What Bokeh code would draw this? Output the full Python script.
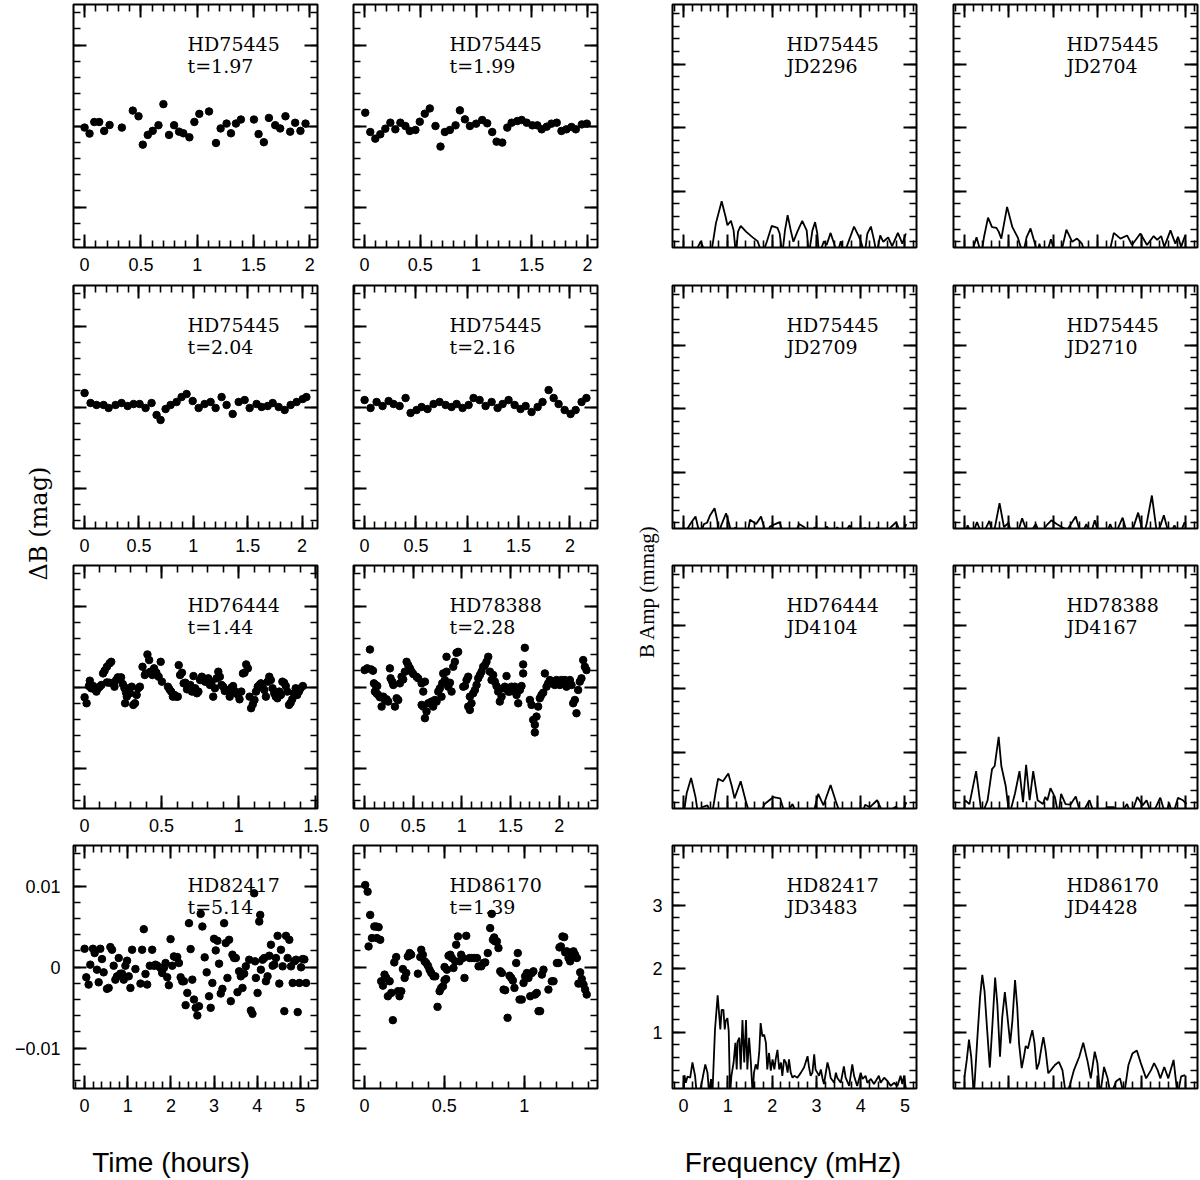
import numpy as np
from bokeh.plotting import figure
from bokeh.models import Range1d, LinearAxis, SingleIntervalTicker, Label, CustomJSTickFormatter
from bokeh.layouts import row, column
from bokeh.embed import file_html
from bokeh.resources import INLINE

# ---------------- light curves: time (hours), delta B (mmag) ----------------
lc_a_t = [0.000, 0.044, 0.086, 0.130, 0.174, 0.222, 0.331, 0.428, 0.479, 0.517,
          0.561, 0.605, 0.656, 0.700, 0.750, 0.795, 0.839, 0.877, 0.931, 0.975,
          1.019, 1.105, 1.167, 1.208, 1.261, 1.300, 1.344, 1.388, 1.504, 1.545,
          1.592, 1.637, 1.693, 1.737, 1.784, 1.826, 1.870, 1.917, 1.962]
lc_a_m = [-0.2, -0.94, 0.49, 0.49, -0.61, 0.12, -0.2, 1.9, 1.2, -2.3,
          -1.1, -0.6, 0.1, 2.7, -1.1, 0.1, -0.7, -0.9, -1.4, 0.5,
          1.5, 1.8, -2.1, -0.3, 0.3, -0.9, 0.3, 0.8, 0.8, -1.0,
          -2.0, 1.0, 0.1, -0.3, 1.2, -0.7, 0.4, -0.6, 0.3]

lc_b_t = [0.006, 0.051, 0.096, 0.141, 0.186, 0.231, 0.276, 0.321, 0.366, 0.405,
          0.456, 0.495, 0.540, 0.585, 0.636, 0.681, 0.720, 0.765, 0.816, 0.855,
          0.900, 0.945, 1.001, 1.055, 1.100, 1.145, 1.184, 1.235, 1.280, 1.319,
          1.370, 1.409, 1.454, 1.505, 1.550, 1.589, 1.634, 1.676, 1.724, 1.766,
          1.811, 1.856, 1.895, 1.949, 1.994]
lc_b_m = [1.64, -0.74, -1.56, -1.02, -0.33, 0.41, -0.41, 0.41, 0.0, -0.61,
          -0.49, 0.53, 1.52, 2.17, 0.0, -2.54, -0.74, -0.49, 0.08, 1.93,
          0.82, 0.0, 0.29, 0.74, 0.33, -0.74, -1.93, -2.05, -0.2, 0.41,
          0.61, 0.74, 0.41, 0.08, 0.08, -0.41, -0.08, 0.29, 0.41, -0.61,
          -0.41, -0.12, -0.41, 0.2, 0.29]

lc_c_t = [0.000, 0.055, 0.110, 0.175, 0.221, 0.285, 0.340, 0.396, 0.451, 0.506,
          0.561, 0.616, 0.662, 0.699, 0.745, 0.791, 0.846, 0.892, 0.938, 0.994,
          1.049, 1.104, 1.159, 1.205, 1.260, 1.306, 1.362, 1.417, 1.472, 1.518,
          1.582, 1.628, 1.684, 1.730, 1.785, 1.840, 1.895, 1.950, 2.006, 2.040]
lc_c_m = [1.72, 0.49, 0.25, 0.25, -0.12, 0.25, 0.49, 0.12, 0.37, 0.37,
          -0.12, 0.49, -0.98, -1.60, -0.25, 0.25, 0.62, 1.23, 1.60, 0.74,
          -0.12, 0.37, 0.62, -0.12, 1.23, 0.25, -0.86, 0.62, 0.86, -0.12,
          0.37, 0.0, 0.12, 0.49, 0.0, -0.37, 0.25, 0.62, 0.98, 1.23]

lc_d_t = [0.000, 0.058, 0.117, 0.175, 0.234, 0.282, 0.341, 0.399, 0.448, 0.506,
          0.555, 0.613, 0.672, 0.730, 0.789, 0.847, 0.896, 0.954, 1.013, 1.061,
          1.120, 1.178, 1.237, 1.295, 1.344, 1.402, 1.461, 1.519, 1.568, 1.626,
          1.685, 1.733, 1.792, 1.841, 1.889, 1.948, 2.006, 2.055, 2.113, 2.160]
lc_d_m = [0.86, -0.12, 0.62, 0.12, 0.74, 0.37, 0.12, 1.11, -0.74, -0.37,
          0.0, -0.25, 0.37, 0.62, 0.25, 0.0, 0.37, -0.12, 0.25, 1.11,
          0.86, 0.12, 0.62, -0.12, 0.37, 0.86, 0.25, -0.25, 0.12, -0.62,
          0.0, 0.62, 2.09, 1.11, 0.37, -0.37, -0.86, -0.37, 0.62, 1.11]

lc_e_t = [0.000, 0.013, 0.028, 0.034, 0.043, 0.056, 0.066, 0.077, 0.088, 0.098,
          0.109, 0.120, 0.130, 0.145, 0.162, 0.173, 0.145, 0.162, 0.184, 0.194,
          0.205, 0.216, 0.226, 0.237, 0.248, 0.259, 0.269, 0.263, 0.274, 0.284,
          0.295, 0.306, 0.316, 0.327, 0.338, 0.348, 0.359, 0.376, 0.391, 0.397,
          0.408, 0.419, 0.427, 0.440, 0.451, 0.466, 0.481, 0.494, 0.502, 0.541,
          0.551, 0.562, 0.573, 0.583, 0.594, 0.605, 0.611, 0.620, 0.632, 0.643,
          0.654, 0.665, 0.675, 0.686, 0.697, 0.707, 0.718, 0.729, 0.739, 0.750,
          0.761, 0.771, 0.782, 0.793, 0.803, 0.814, 0.825, 0.835, 0.846, 0.857,
          0.868, 0.878, 0.889, 0.900, 0.910, 0.921, 0.932, 0.942, 0.953, 0.964,
          0.974, 0.985, 0.996, 1.006, 1.017, 1.028, 1.038, 1.049, 1.060, 1.071,
          1.081, 1.092, 1.103, 1.113, 1.124, 1.135, 1.145, 1.156, 1.167, 1.177,
          1.188, 1.199, 1.209, 1.220, 1.231, 1.241, 1.252, 1.263, 1.274, 1.284,
          1.295, 1.306, 1.316, 1.327, 1.338, 1.348, 1.359, 1.370, 1.380, 1.391,
          1.402, 1.417]
lc_e_m = [-1.27, -2.01, 0.12, 0.78, -0.16, 0.12, -0.29, -0.57, -0.16, 0.04,
          0.25, 1.68, 2.01, 2.50, 2.91, 3.11, 0.57, 0.53, 0.45, 0.04,
          0.86, 1.19, 1.07, 1.19, 0.37, -0.16, -0.70, -2.01, -1.19, -0.16,
          -0.78, 0.04, -2.21, -2.01, -0.98, -0.16, 0.04, 2.50, 1.48, 1.68,
          4.02, 3.32, 1.89, 1.48, 2.30, 1.76, 1.27, 3.11, 0.66, 0.04,
          -0.29, -0.57, -1.19, -0.98, -1.19, -1.19, 2.70, 1.48, 1.76, 0.45,
          0.53, -0.29, 0.12, 0.25, -0.57, 1.35, -0.16, -0.78, -0.57, 0.86,
          1.27, 1.07, 0.66, 0.86, 1.07, 0.25, 0.66, -1.19, -0.16, 1.07,
          1.89, 1.27, 0.25, 0.04, -0.49, -0.37, -0.57, -1.19, -0.08, 0.12,
          -0.49, -0.78, -0.98, -1.52, -0.57, 1.68, 1.76, 2.79, 2.30, -1.19,
          -2.62, -2.13, -1.60, -0.57, 0.04, 0.25, 0.45, -0.08, -0.37, -1.19,
          0.66, 1.27, 0.86, -0.16, -0.78, -1.19, -1.39, -0.57, -0.98, 0.66,
          0.53, 0.12, -0.57, -2.21, -1.93, -1.52, -0.78, -0.16, -0.98, -0.57,
          -0.16, 0.12]

lc_f_t = [0.000, 0.027, 0.055, 0.068, 0.086, 0.096, 0.113, 0.130, 0.106, 0.123,
          0.140, 0.158, 0.175, 0.192, 0.209, 0.226, 0.243, 0.260, 0.267, 0.284,
          0.295, 0.312, 0.329, 0.346, 0.363, 0.380, 0.397, 0.414, 0.432, 0.449,
          0.466, 0.483, 0.500, 0.534, 0.551, 0.586, 0.603, 0.620, 0.586, 0.603,
          0.620, 0.637, 0.654, 0.671, 0.688, 0.705, 0.723, 0.740, 0.757, 0.774,
          0.791, 0.798, 0.808, 0.825, 0.842, 0.842, 0.860, 0.877, 0.894, 0.911,
          0.928, 0.945, 0.962, 1.014, 1.031, 1.048, 1.065, 1.082, 1.065, 1.082,
          1.099, 1.116, 1.134, 1.151, 1.168, 1.185, 1.202, 1.219, 1.236, 1.253,
          1.271, 1.288, 1.305, 1.322, 1.339, 1.356, 1.373, 1.390, 1.408, 1.425,
          1.442, 1.459, 1.476, 1.493, 1.510, 1.527, 1.545, 1.562, 1.579, 1.596,
          1.613, 1.630, 1.647, 1.630, 1.699, 1.716, 1.733, 1.750, 1.750, 1.767,
          1.784, 1.801, 1.818, 1.836, 1.853, 1.870, 1.887, 1.904, 1.921, 1.938,
          1.955, 1.973, 1.990, 2.007, 2.024, 2.041, 2.058, 2.075, 2.092, 2.110,
          2.127, 2.144, 2.161, 2.178, 2.195, 2.212, 2.229, 2.247, 2.264, 2.281]
lc_f_m = [2.09, 2.30, 4.63, 2.17, 2.01, 0.45, 0.25, 0.12, -0.57, -0.78,
          -0.98, -1.27, -2.42, -1.19, -1.60, -1.52, -1.80, 2.30, 1.07, 0.66,
          0.25, -2.42, -1.39, -1.60, 0.45, 1.27, 0.94, 1.89, 3.11, 2.70,
          2.30, 1.89, 1.60, 1.27, 1.07, 0.45, -0.57, 0.66, -2.21, -2.42,
          -3.85, -3.03, -2.01, -2.01, -1.80, -2.42, -1.60, -1.80, -0.57, -0.16,
          -1.19, 0.45, 1.68, 0.86, 1.89, 3.73, 0.04, 0.53, -0.57, 2.50,
          3.11, 4.22, 4.34, 0.04, 0.12, 0.86, 1.27, -1.19, -2.42, -2.83,
          -2.01, -0.78, -0.37, 0.25, 1.07, 1.48, 1.89, 2.50, 2.70, 3.11,
          3.73, 1.89, 0.86, 1.48, 0.66, 0.12, -0.57, -1.80, -1.19, -0.16,
          0.04, 1.35, -0.57, -0.57, 0.04, -0.45, 0.04, -0.98, -2.01, -0.37,
          0.12, 2.79, 4.84, 1.68, -1.60, -2.21, -4.06, -4.67, -5.61, -3.65,
          -2.42, -1.39, -0.98, -0.70, 1.68, 0.04, 0.45, 0.86, 0.45, 0.66,
          0.25, 0.86, 0.66, 0.25, 0.86, 0.66, 0.86, 0.04, 0.25, 0.86,
          0.25, -2.01, -1.60, -3.24, -0.37, 0.66, 1.07, 3.32, 2.50, 2.09]

lc_g_t = [0.000, 0.039, 0.093, 0.132, 0.194, 0.233, 0.287, 0.326, 0.364, 0.403,
          0.442, 0.519, 0.558, 0.597, 0.636, 0.674, 0.713, 0.752, 0.791, 0.829,
          0.868, 0.907, 0.946, 0.984, 1.023, 1.062, 1.101, 1.178, 1.295, 1.333,
          1.372, 1.411, 1.450, 1.512, 1.566, 1.605, 1.643, 1.682, 1.760, 1.798,
          1.837, 1.876, 1.915, 1.953, 1.992, 2.031, 2.070, 2.109, 2.147, 2.186,
          2.225, 2.264, 2.302, 2.341, 2.380, 2.419, 2.457, 2.496, 2.535, 2.574,
          2.612, 2.651, 2.690, 2.729, 2.783, 2.829, 2.884, 2.922, 2.961, 3.000,
          3.039, 3.078, 3.116, 3.155, 3.194, 3.233, 3.271, 3.310, 3.349, 3.388,
          3.426, 3.465, 3.504, 3.543, 3.581, 3.620, 3.659, 3.698, 3.736, 3.930,
          3.814, 3.853, 3.891, 3.950, 3.969, 4.008, 4.047, 4.070, 4.085, 4.124,
          4.163, 4.202, 4.240, 4.279, 4.318, 4.357, 4.395, 4.434, 4.473, 4.512,
          4.550, 4.589, 4.628, 4.667, 4.705, 4.744, 4.783, 4.822, 4.860, 4.899,
          4.938, 4.977, 5.016, 5.054, 5.093, 5.132]
lc_g_m = [2.25, -1.27, -2.17, 0.29, 2.25, 1.72, -0.33, -1.89, 2.25, 0.98,
          -0.66, -2.70, -2.58, 2.46, 2.13, 0.16, -1.56, -1.15, 1.11, -0.82,
          -0.82, -1.56, 0.16, 0.78, -1.15, -2.58, 2.13, -0.25, -2.05, 2.13,
          4.67, -0.86, -2.17, 0.16, 2.13, 0.16, 0.29, 0.16, -0.12, -0.74,
          -0.12, 0.49, -1.27, -2.25, 3.44, 0.16, 1.31, 1.19, 1.23, 0.49,
          -1.27, -1.76, -1.76, -4.71, -3.20, 5.41, 2.21, -1.56, -4.02, -5.04,
          -5.98, -4.84, 6.56, 5.00, 1.19, -0.66, -3.61, -5.04, -1.97, 3.48,
          2.05, 3.24, 0.41, -3.28, -2.70, 5.41, 2.95, -1.35, 3.36, -4.22,
          1.52, 1.11, 1.11, -3.11, -0.53, -1.15, -2.58, -0.82, 0.08, 9.10,
          0.90, -5.37, -5.78, 0.70, -1.35, -3.20, 5.61, 6.43, -0.33, 0.90,
          1.11, -1.76, -1.15, 1.39, 2.75, 0.16, 0.29, 1.11, 3.85, -2.05,
          2.13, 0.08, -5.45, 3.85, 1.11, 3.36, 0.08, -1.97, 0.70, 0.90,
          -5.57, -1.97, -0.04, 0.98, 0.94, -1.97]

lc_h_t = [0.004, 0.019, 0.035, 0.025, 0.046, 0.061, 0.073, 0.088, 0.077, 0.098,
          0.104, 0.115, 0.125, 0.136, 0.146, 0.157, 0.167, 0.177, 0.186, 0.198,
          0.209, 0.219, 0.230, 0.240, 0.251, 0.261, 0.271, 0.282, 0.292, 0.334,
          0.349, 0.355, 0.365, 0.376, 0.386, 0.397, 0.407, 0.418, 0.432, 0.443,
          0.457, 0.470, 0.480, 0.491, 0.501, 0.511, 0.501, 0.516, 0.526, 0.537,
          0.547, 0.557, 0.568, 0.574, 0.585, 0.595, 0.605, 0.616, 0.626, 0.637,
          0.658, 0.672, 0.689, 0.704, 0.714, 0.731, 0.745, 0.756, 0.772, 0.787,
          0.804, 0.818, 0.829, 0.797, 0.812, 0.839, 0.850, 0.860, 0.871, 0.881,
          0.896, 0.908, 0.919, 0.929, 0.939, 0.950, 0.960, 0.971, 0.985, 0.996,
          1.006, 1.017, 1.027, 1.038, 1.048, 1.058, 1.069, 1.079, 1.090, 1.100,
          1.111, 1.121, 1.152, 1.173, 1.184, 1.205, 1.215, 1.221, 1.230, 1.240,
          1.251, 1.257, 1.267, 1.278, 1.288, 1.299, 1.309, 1.319, 1.330, 1.340,
          1.351, 1.361, 1.372, 1.382, 1.392]
lc_h_m = [10.12, 9.30, 6.43, 2.54, 3.57, 5.00, 5.00, 4.92, 3.57, 3.36,
          -1.76, -2.30, -0.94, -1.35, -3.61, -1.76, -3.20, -6.56, 0.57, 1.23,
          -2.99, -3.61, -2.99, -0.25, -1.35, -0.74, 1.31, 1.72, 1.52, -0.82,
          1.23, 2.13, 1.52, 0.70, 0.49, 0.16, -0.33, -0.74, -1.15, -1.15,
          -4.92, -2.99, -2.58, -2.38, -1.64, -1.48, 0.00, -0.33, 1.39, 1.52,
          1.11, -0.12, 0.70, 2.75, 3.77, 0.70, 1.52, 1.11, -1.35, 3.85,
          1.11, 1.11, 1.11, 1.11, 0.08, 0.08, 0.49, 0.57, 1.72, 4.80,
          3.36, 3.16, 3.16, 6.56, 3.65, 2.34, -0.53, -0.74, -2.79, -2.87,
          -6.27, -1.07, -1.35, -1.68, -2.58, 0.49, 1.72, -4.02, -4.02, -1.97,
          -1.15, -0.74, -1.35, -3.61, -0.74, -0.53, -3.40, -3.20, -5.45, -5.45,
          -0.94, -0.33, -2.79, -1.76, -1.76, 0.49, 0.49, 2.42, 2.54, 3.77,
          3.69, 1.80, 1.93, 1.11, 0.70, 1.80, 1.93, 1.52, 1.11, -2.05,
          -0.66, -1.48, -2.17, -2.79, -3.40]

lc_star = ["HD75445", "HD75445", "HD75445", "HD75445", "HD76444", "HD78388", "HD82417", "HD86170"]
lc_dur = [1.97, 1.99, 2.04, 2.16, 1.44, 2.28, 5.14, 1.39]

# ---------------- amplitude spectra: frequency (mHz), B amplitude (mmag) ----------------
sp_a_f = [0.00, 0.24, 0.39, 0.50, 0.62, 0.73, 0.86, 0.95, 0.99, 1.07,
          1.13, 1.18, 1.23, 1.29, 1.41, 1.56, 1.67, 1.78, 1.88, 1.99,
          2.12, 2.17, 2.23, 2.29, 2.35, 2.42, 2.48, 2.57, 2.68, 2.78,
          2.83, 2.91, 2.97, 3.02, 3.06, 3.17, 3.23, 3.32, 3.40, 3.47,
          3.55, 3.62, 3.74, 3.85, 3.96, 4.02, 4.09, 4.15, 4.23, 4.30,
          4.36, 4.44, 4.51, 4.62, 4.71, 4.84, 4.94, 5.02]
sp_a_a = [0.0, 0.0, 0.21, 0.0, 0.0, 0.49, 0.84, 0.59, 0.46, 0.53,
          0.38, 0.0, 0.36, 0.45, 0.36, 0.27, 0.21, 0.0, 0.2, 0.45,
          0.42, 0.33, 0.0, 0.38, 0.62, 0.38, 0.2, 0.36, 0.53, 0.38,
          0.0, 0.38, 0.51, 0.33, 0.0, 0.21, 0.15, 0.34, 0.17, 0.0,
          0.21, 0.0, 0.23, 0.44, 0.28, 0.17, 0.0, 0.33, 0.44, 0.23,
          0.0, 0.30, 0.2, 0.27, 0.13, 0.34, 0.17, 0.33]

sp_b_f = [0.0, 0.15, 0.27, 0.38, 0.44, 0.53, 0.62, 0.72, 0.77, 0.83,
          0.96, 1.08, 1.20, 1.32, 1.40, 1.49, 1.59, 1.64, 1.69, 1.75,
          1.85, 1.95, 2.05, 2.17, 2.30, 2.43, 2.54, 2.65, 2.73,
          3.26, 3.37, 3.52, 3.67, 3.78, 3.97, 4.12, 4.27, 4.35, 4.44,
          4.51, 4.65, 4.76, 4.82, 4.89, 4.98]
sp_b_a = [0.0, 0.0, 0.27, 0.0, 0.28, 0.58, 0.43, 0.42, 0.36, 0.25,
          0.75, 0.43, 0.27, 0.0, 0.27, 0.41, 0.17, 0.0, 0.17, 0.0,
          0.0, 0.24, 0.0, 0.0, 0.39, 0.2, 0.25, 0.17, 0.0,
          0.0, 0.34, 0.25, 0.30, 0.15, 0.33, 0.15, 0.29, 0.23, 0.29,
          0.12, 0.38, 0.17, 0.28, 0.12, 0.30]

sp_c_f = [0.00, 0.15, 0.27, 0.37, 0.46, 0.53, 0.60, 0.70, 0.76, 0.79,
          0.85, 0.96, 1.03, 1.09, 1.17, 1.25, 1.44, 1.50, 1.64, 1.75,
          1.87, 1.95, 2.07, 2.17, 2.26, 2.50, 2.61, 2.73, 2.85, 2.96,
          3.08, 3.24, 3.36, 3.47, 3.59, 3.75, 3.86, 4.10, 4.25, 4.37,
          4.53, 4.68, 4.80, 4.92, 5.03]
sp_c_a = [0.0, 0.18, 0.30, 0.0, 0.18, 0.20, 0.32, 0.43, 0.24, 0.0,
          0.16, 0.35, 0.18, 0.0, 0.13, 0.0, 0.0, 0.25, 0.18, 0.30,
          0.0, 0.14, 0.18, 0.21, 0.0, 0.0, 0.18, 0.13, 0.0, 0.13,
          0.0, 0.14, 0.0, 0.13, 0.0, 0.16, 0.0, 0.12, 0.0, 0.13,
          0.0, 0.13, 0.21, 0.0, 0.18]

sp_d_f = [0.0, 0.07, 0.17, 0.28, 0.40, 0.56, 0.65, 0.79, 0.89, 0.99,
          1.07, 1.18, 1.30, 1.44, 1.61, 1.71, 1.85, 1.96, 2.08, 2.20,
          2.32, 2.51, 2.63, 2.75, 2.84, 2.94, 3.04, 3.18, 3.29, 3.39,
          3.57, 3.68, 3.80, 3.92, 4.04, 4.11, 4.23, 4.35, 4.50, 4.62,
          4.74, 4.85, 4.97]
sp_d_a = [0.0, 0.16, 0.0, 0.21, 0.0, 0.23, 0.0, 0.51, 0.13, 0.20,
          0.0, 0.0, 0.27, 0.0, 0.18, 0.0, 0.16, 0.24, 0.18, 0.13,
          0.09, 0.30, 0.0, 0.18, 0.0, 0.24, 0.0, 0.0, 0.18, 0.0,
          0.28, 0.0, 0.10, 0.36, 0.0, 0.18, 0.63, 0.0, 0.32, 0.0,
          0.16, 0.0, 0.21]

sp_e_f = [0.0, 0.07, 0.17, 0.27, 0.33, 0.41, 0.54, 0.64, 0.72, 0.78,
          0.89, 1.01, 1.09, 1.15, 1.29, 1.40, 1.50, 1.71, 1.83, 2.03,
          2.18, 2.30, 2.46, 2.57, 2.92, 3.04, 3.16, 3.32, 3.43, 3.55,
          4.02, 4.10, 4.21, 4.37, 4.53, 4.68, 4.80, 4.92, 5.03]
sp_e_a = [0.0, 0.35, 0.59, 0.29, 0.0, 0.13, 0.16, 0.0, 0.35, 0.58,
          0.54, 0.66, 0.46, 0.27, 0.54, 0.24, 0.0, 0.0, 0.18, 0.29,
          0.27, 0.0, 0.18, 0.0, 0.0, 0.34, 0.16, 0.48, 0.24, 0.0,
          0.0, 0.17, 0.13, 0.24, 0.0, 0.09, 0.14, 0.0, 0.21]

sp_f_f = [0.01, 0.11, 0.26, 0.39, 0.52, 0.62, 0.68, 0.77, 0.83, 0.93,
          1.01, 1.14, 1.24, 1.32, 1.39, 1.47, 1.55, 1.65, 1.77, 1.82,
          1.87, 1.94, 2.04, 2.12, 2.18, 2.28, 2.39, 2.51, 2.63, 2.82,
          2.94, 3.10, 3.21, 3.37, 3.49, 3.67, 3.76, 3.90, 4.02, 4.11,
          4.23, 4.42, 4.54, 4.62, 4.70, 4.82, 4.93, 5.01]
sp_f_a = [0.24, 0.18, 0.70, 0.0, 0.24, 0.73, 0.78, 1.24, 0.78, 0.46,
          0.0, 0.35, 0.70, 0.21, 0.80, 0.24, 0.70, 0.24, 0.18, 0.29,
          0.24, 0.43, 0.29, 0.0, 0.34, 0.18, 0.17, 0.30, 0.0, 0.24,
          0.0, 0.0, 0.13, 0.13, 0.0, 0.18, 0.0, 0.29, 0.16, 0.24,
          0.0, 0.28, 0.0, 0.20, 0.0, 0.28, 0.24, 0.18]

sp_g_f = [0.00, 0.02, 0.05, 0.09, 0.15, 0.20, 0.26, 0.30, 0.35, 0.41,
          0.49, 0.54, 0.58, 0.62, 0.65, 0.71, 0.77, 0.83, 0.86, 0.90,
          0.93, 0.95, 0.99, 1.02, 1.05, 1.08, 1.13, 1.17, 1.20, 1.22,
          1.26, 1.29, 1.33, 1.37, 1.41, 1.44, 1.48, 1.52, 1.56, 1.59,
          1.63, 1.67, 1.71, 1.74, 1.78, 1.82, 1.86, 1.89, 1.93, 1.97,
          2.01, 2.05, 2.08, 2.12, 2.16, 2.20, 2.23, 2.27, 2.31, 2.35,
          2.38, 2.42, 2.46, 2.50, 2.57, 2.65, 2.72, 2.80, 2.83, 2.87,
          2.91, 2.95, 2.98, 3.02, 3.06, 3.10, 3.14, 3.17, 3.25, 3.29,
          3.32, 3.40, 3.44, 3.47, 3.55, 3.62, 3.66, 3.74, 3.81, 3.85,
          3.92, 4.00, 4.04, 4.11, 4.15, 4.23, 4.30, 4.41, 4.45, 4.53,
          4.60, 4.68, 4.75, 4.83, 4.90, 4.94, 4.98, 5.02]
sp_g_a = [0.0, 0.32, 0.20, 0.30, 0.28, 0.52, 0.31, 0.0, 0.0, 0.20,
          0.49, 0.36, 0.0, 0.26, 0.0, 1.04, 1.58, 1.04, 1.35, 1.35,
          1.04, 1.17, 1.22, 1.01, 0.0, 0.31, 0.52, 0.83, 0.41, 0.85,
          0.91, 0.41, 1.19, 0.52, 1.19, 0.41, 0.91, 0.52, 0.0, 0.36,
          0.49, 0.41, 0.70, 1.14, 0.93, 0.96, 0.83, 0.41, 0.67, 0.39,
          0.57, 0.41, 0.57, 0.72, 0.41, 0.52, 0.31, 0.57, 0.52, 0.36,
          0.57, 0.36, 0.28, 0.31, 0.28, 0.36, 0.44, 0.62, 0.46, 0.31,
          0.36, 0.65, 0.41, 0.36, 0.31, 0.41, 0.26, 0.18, 0.52, 0.41,
          0.28, 0.20, 0.36, 0.28, 0.20, 0.46, 0.28, 0.15, 0.49, 0.31,
          0.15, 0.36, 0.26, 0.31, 0.20, 0.26, 0.18, 0.31, 0.20, 0.28,
          0.23, 0.15, 0.20, 0.15, 0.31, 0.18, 0.31, 0.11]

sp_h_f = [0.00, 0.05, 0.10, 0.15, 0.21, 0.29, 0.35, 0.40, 0.45, 0.51,
          0.57, 0.63, 0.69, 0.74, 0.80, 0.85, 0.91, 0.97, 1.03, 1.08,
          1.14, 1.19, 1.23, 1.29, 1.34, 1.38, 1.43, 1.49, 1.53, 1.58,
          1.63, 1.68, 1.74, 1.78, 1.83, 1.89, 1.95, 2.04, 2.13, 2.21,
          2.29, 2.38, 2.47, 2.59, 2.68, 2.78, 2.85, 2.94, 3.00, 3.06,
          3.15, 3.23, 3.30, 3.42, 3.51, 3.60, 3.70, 3.79, 3.89, 3.98,
          4.10, 4.21, 4.28, 4.36, 4.42, 4.51, 4.60, 4.72, 4.81, 4.89,
          4.98]
sp_h_a = [0.30, 0.56, 0.88, 0.61, 0.0, 0.92, 1.55, 1.90, 1.65, 1.03,
          0.44, 1.13, 1.86, 1.44, 0.61, 1.23, 1.63, 1.23, 0.82, 1.18,
          1.82, 1.39, 0.82, 0.43, 0.61, 0.78, 0.74, 0.92, 1.03, 0.82,
          0.41, 0.51, 0.77, 0.92, 0.71, 0.35, 0.40, 0.48, 0.53, 0.40,
          0.0, 0.17, 0.40, 0.61, 0.83, 0.53, 0.27, 0.69, 0.51, 0.0,
          0.45, 0.27, 0.0, 0.22, 0.27, 0.0, 0.48, 0.66, 0.71, 0.51,
          0.27, 0.40, 0.51, 0.40, 0.27, 0.45, 0.27, 0.56, 0.0, 0.30,
          0.32]

sp_star = ["HD75445", "HD75445", "HD75445", "HD75445", "HD76444", "HD78388", "HD82417", "HD86170"]
sp_jd = ["JD2296", "JD2704", "JD2709", "JD2710", "JD4104", "JD4167", "JD3483", "JD4428"]

LC_T = [lc_a_t, lc_b_t, lc_c_t, lc_d_t, lc_e_t, lc_f_t, lc_g_t, lc_h_t]
LC_M = [lc_a_m, lc_b_m, lc_c_m, lc_d_m, lc_e_m, lc_f_m, lc_g_m, lc_h_m]
SP_F = [sp_a_f, sp_b_f, sp_c_f, sp_d_f, sp_e_f, sp_f_f, sp_g_f, sp_h_f]
SP_A = [sp_a_a, sp_b_a, sp_c_a, sp_d_a, sp_e_a, sp_f_a, sp_g_a, sp_h_a]

# ---------------- layout geometry (page starts at 0,0) ----------------
FH = 243
COL_W = [335, 299, 300, 265]
COL_ML = [73, 18, 38, 19]
COL_MR = [18, 37, 18, 2]
ROW_H = [280, 280, 280, 282]
ROW_MT = [4, 5, 5, 5]
ROW_MB = [33, 32, 32, 34]
STRIP_W = {0: 55, 2: 30}
TXT_OFF = [114, 96, 114, 113]
TXT_DY = (39, 61)

FMT_CODE = """
if (Math.abs(tick) < 1e-9) { return "0"; }
var s = String(Number(Math.abs(tick).toFixed(3)));
return (tick < 0 ? "\u2212" : "") + s;
"""
BLANK_CODE = "return '';"

TICK_FONT = "Liberation Sans"
TICK_SIZE = "18px"
SERIF = "DejaVu Serif"


def make_axis(ticker, labels, standoff=10):
    ax = LinearAxis(ticker=ticker)
    ax.axis_line_color = None
    ax.major_tick_in = 13
    ax.major_tick_out = 0
    ax.minor_tick_in = 7
    ax.minor_tick_out = 0
    ax.major_tick_line_color = "black"
    ax.minor_tick_line_color = "black"
    ax.major_tick_line_width = 2
    ax.minor_tick_line_width = 1.6
    if labels:
        ax.formatter = CustomJSTickFormatter(code=FMT_CODE)
        ax.major_label_text_font = TICK_FONT
        ax.major_label_text_font_size = TICK_SIZE
        ax.major_label_text_color = "black"
        ax.major_label_standoff = standoff
    else:
        ax.formatter = CustomJSTickFormatter(code=BLANK_CODE)
        ax.major_label_text_font_size = "1px"
        ax.major_label_text_color = None
        ax.major_label_standoff = 0
    return ax


def make_panel(ri, ci, w, ml):
    fw = w - ml - COL_MR[ci]
    if ci < 2:
        k = ri * 2 + ci
        t = lc_dur[k]
        xr = Range1d(-0.05 * t, 1.05 * t)
        yr = Range1d(-0.015, 0.015)
        xint = 1.0 if t > 3 else 0.5
        yint = 0.01
        lines = [lc_star[k], "t=%.2f" % t]
        show_x = True
        show_y = (ci == 0 and ri == 3)
    else:
        k = ri * 2 + (ci - 2)
        xr = Range1d(-0.25, 5.26)
        yr = Range1d(0.11, 3.94)
        xint = 1.0
        yint = 1.0
        lines = [sp_star[k], sp_jd[k]]
        show_x = (ci == 2 and ri == 3)
        show_y = (ci == 2 and ri == 3)

    p = figure(width=w, height=ROW_H[ri], x_range=xr, y_range=yr,
               output_backend="svg", toolbar_location=None, title=None,
               x_axis_location=None, y_axis_location=None,
               min_border_left=ml, min_border_right=COL_MR[ci],
               min_border_top=ROW_MT[ri], min_border_bottom=ROW_MB[ri])
    p.grid.visible = False
    p.outline_line_color = "black"
    p.outline_line_width = 2
    p.background_fill_color = "white"
    p.border_fill_color = "white"

    if ci < 2:
        n = min(len(LC_T[k]), len(LC_M[k]))
        x = np.array(LC_T[k][:n])
        y = np.array(LC_M[k][:n]) / 1000.0
        p.scatter(x, y, size=7.5, marker="circle", fill_color="black", line_color="black")
    else:
        n = min(len(SP_F[k]), len(SP_A[k]))
        p.line(np.array(SP_F[k][:n]), np.array(SP_A[k][:n]), line_color="black", line_width=1.8)

    p.add_layout(make_axis(SingleIntervalTicker(interval=xint, num_minor_ticks=5), show_x, 10), "below")
    p.add_layout(make_axis(SingleIntervalTicker(interval=xint, num_minor_ticks=5), False), "above")
    p.add_layout(make_axis(SingleIntervalTicker(interval=yint, num_minor_ticks=5), show_y,
                           13 if ci == 0 else 10), "left")
    p.add_layout(make_axis(SingleIntervalTicker(interval=yint, num_minor_ticks=5), False), "right")

    x0, x1 = xr.start, xr.end
    y0, y1 = yr.start, yr.end
    xl = x0 + TXT_OFF[ci] / fw * (x1 - x0)
    for txt, dy in zip(lines, TXT_DY):
        yl = y1 - dy / FH * (y1 - y0)
        p.add_layout(Label(x=xl, y=yl, text=txt, text_font=SERIF, text_font_size="19px",
                           text_color="black", text_align="left", text_baseline="alphabetic"))
    return p


def blank(w, h):
    p = figure(width=w, height=h, x_range=Range1d(0, w), y_range=Range1d(0, h),
               output_backend="svg", toolbar_location=None, title=None,
               x_axis_location=None, y_axis_location=None,
               min_border=0, min_border_left=0, min_border_right=0,
               min_border_top=0, min_border_bottom=0)
    p.grid.visible = False
    p.outline_line_color = None
    p.background_fill_color = "white"
    p.border_fill_color = "white"
    return p


P = [[None] * 4 for _ in range(4)]
for ri in range(4):
    for ci in range(4):
        w = COL_W[ci]
        ml = COL_ML[ci]
        if ci in STRIP_W and ri in (1, 2):
            w -= STRIP_W[ci]
            ml -= STRIP_W[ci]
        P[ri][ci] = make_panel(ri, ci, w, ml)

strip_top = ROW_H[0]
strip_h = ROW_H[1] + ROW_H[2]
stripL = blank(STRIP_W[0], strip_h)
stripL.add_layout(Label(x=38, y=strip_top + strip_h - 523, text="\u0394B (mag)", angle=np.pi / 2,
                        text_align="center", text_baseline="middle",
                        text_font=SERIF, text_font_size="24px", text_color="black"))
stripM = blank(STRIP_W[2], strip_h)
stripM.add_layout(Label(x=12, y=strip_top + strip_h - 591, text="B Amp (mmag)", angle=np.pi / 2,
                        text_align="center", text_baseline="middle",
                        text_font="Liberation Serif", text_font_size="21px", text_color="black"))

BOT_H = 57
bot_top = sum(ROW_H)
bottom = blank(sum(COL_W), BOT_H)
bottom.add_layout(Label(x=170.5, y=bot_top + BOT_H - 1162, text="Time (hours)", text_align="center",
                        text_baseline="middle", text_font="Liberation Sans",
                        text_font_size="28px", text_color="black"))
bottom.add_layout(Label(x=792.5, y=bot_top + BOT_H - 1162, text="Frequency (mHz)", text_align="center",
                        text_baseline="middle", text_font="Liberation Sans",
                        text_font_size="28px", text_color="black"))

col0 = column(P[0][0], row(stripL, column(P[1][0], P[2][0])), P[3][0])
col1 = column(P[0][1], P[1][1], P[2][1], P[3][1])
col2 = column(P[0][2], row(stripM, column(P[1][2], P[2][2])), P[3][2])
col3 = column(P[0][3], P[1][3], P[2][3], P[3][3])
layout = column(row(col0, col1, col2, col3), bottom)

open("out.html", "w").write(file_html(layout, INLINE, title="light curves and spectra"))
